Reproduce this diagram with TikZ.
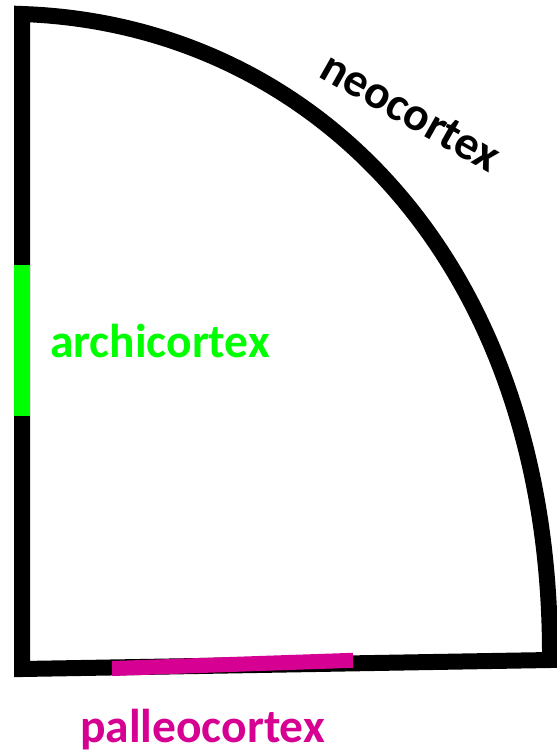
\documentclass[tikz,border=0pt]{standalone}
\usepackage{fontspec}
\setmainfont{Carlito}
\definecolor{archigreen}{RGB}{0,255,0}
\definecolor{palleomag}{RGB}{214,0,147}

\begin{document}
\begin{tikzpicture}[x=1pt,y=-1pt,line join=miter]
\useasboundingbox (0,0) rectangle (556,751);
\coordinate (bl) at (22,669);
\coordinate (tl) at (22,14);
\coordinate (br) at (550,660);
\draw[line width=16pt] (bl) -- (tl) .. controls (312,24) and (552,260) .. (br) -- cycle;
\draw[line width=16pt,draw=archigreen] (22,265) -- (22,416);
\draw[line width=15pt,draw=palleomag] (112,668.5) -- (353,660.3);
\node[text=archigreen,font=\bfseries\fontsize{47.5}{56}\selectfont,anchor=base west,inner sep=0] (archi) at (50,357) {archicortex};
\node[text=palleomag,font=\bfseries\fontsize{47.5}{56}\selectfont,anchor=base west,inner sep=0] (palleo) at (80,742) {palleocortex};
\node[font=\bfseries\fontsize{47.5}{56}\selectfont,rotate=-29.5,inner sep=0] (neo) at (411,112) {neocortex};
\end{tikzpicture}
\end{document}
